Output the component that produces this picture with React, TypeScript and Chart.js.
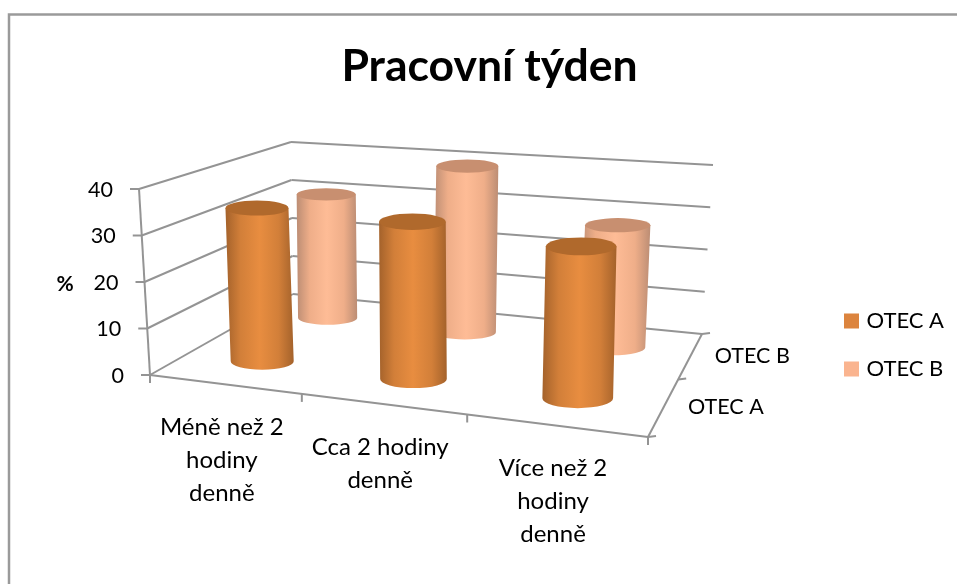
import React, { useEffect, useRef } from "react";
import { Chart, registerables } from "chart.js";

Chart.register(...registerables);

const categories = [
  ["Méně než 2", "hodiny", "denně"],
  ["Cca 2 hodiny", "denně"],
  ["Více než 2", "hodiny", "denně"],
];
const otecA = [34, 33.5, 31];
const otecB = [30.5, 39.5, 28];
const seriesNames = ["OTEC A", "OTEC B"];
const chartTitle = "Pracovní týden";
const axisTitle = "%";

const FONT = "Lato, 'Open Sans', sans-serif";
const GRID = "#949494";
const LEGEND_COLORS = ["#DC843E", "#FAB48F"];
const SHADES = [
  { edge: "#A4622B", mid: "#D27F39", center: "#E88D40", top: "#B0692C" },
  { edge: "#BC8D74", mid: "#EFAE89", center: "#FEBC96", top: "#C88F70" },
];
const SERIES_SHIFT = [{ u: 0.004, v: -0.015 }, { u: 0, v: 0 }];

// View of the 3D box: corners of the floor and of the top plane (front-left, front-right, back-right, back-left)
type Pt = [number, number];
const FLOOR: Pt[] = [[150, 375], [648, 437], [702, 334], [293, 294]];
const ROOF: Pt[] = [[139, 189], [654, 225], [713, 165], [291, 142]];

function homography(q: Pt[]) {
  const [x0, x1, x2, x3] = q.map((p) => p[0]);
  const [y0, y1, y2, y3] = q.map((p) => p[1]);
  const dx1 = x1 - x2, dx2 = x3 - x2, sx = x0 - x1 + x2 - x3;
  const dy1 = y1 - y2, dy2 = y3 - y2, sy = y0 - y1 + y2 - y3;
  const det = dx1 * dy2 - dx2 * dy1;
  const g = (sx * dy2 - dx2 * sy) / det;
  const h = (dx1 * sy - sx * dy1) / det;
  const a = x1 - x0 + g * x1, b = x3 - x0 + h * x3;
  const d = y1 - y0 + g * y1, e = y3 - y0 + h * y3;
  return (u: number, v: number): Pt => {
    const w = g * u + h * v + 1;
    return [(a * u + b * v + x0) / w, (d * u + e * v + y0) / w];
  };
}
const floorAt = homography(FLOOR);
const roofAt = homography(ROOF);
const project = (u: number, v: number, w: number): Pt => {
  const p = floorAt(u, v), t = roofAt(u, v);
  return [p[0] + (t[0] - p[0]) * w, p[1] + (t[1] - p[1]) * w];
};

const RADIUS_U = 0.07;
const RADIUS_V = 0.09;

const box3d = {
  id: "box3d",
  beforeDatasetsDraw(chart: any) {
    const { ctx, scales } = chart;
    const xs = scales.x, ys = scales.y;
    const uOf = (val: number) => (xs.getPixelForValue(val) - xs.left) / xs.width;
    const wOf = (val: number) => (ys.bottom - ys.getPixelForValue(val)) / ys.height;
    const n = chart.data.labels.length;
    const nSeries = chart.data.datasets.length;

    const line = (a: Pt, b: Pt) => {
      ctx.beginPath();
      ctx.moveTo(a[0], a[1]);
      ctx.lineTo(b[0], b[1]);
      ctx.stroke();
    };

    ctx.save();
    // outer frame
    ctx.strokeStyle = "#9a9a9a";
    ctx.lineWidth = 2.5;
    ctx.beginPath();
    ctx.moveTo(9, 584);
    ctx.lineTo(9, 14.5);
    ctx.lineTo(957, 14.5);
    ctx.stroke();

    // walls and grid
    ctx.strokeStyle = GRID;
    ctx.lineWidth = 2;
    ctx.fillStyle = "#000";
    ctx.font = `21.5px ${FONT}`;
    ctx.textBaseline = "middle";
    for (const tick of ys.ticks) {
      const w = wOf(tick.value);
      const front = project(0, 0, w), corner = project(0, 1, w), right = project(1, 1, w);
      line(front, corner);
      line(corner, right);
      line([front[0] - 9, front[1]], front);
      ctx.textAlign = "right";
      ctx.fillText(String(tick.value), front[0] - 26, front[1] + 1);
    }
    line(project(0, 0, 1), project(0, 0, 0));

    // floor edges
    line(floorAt(0, 0), floorAt(1, 0));
    line(floorAt(1, 0), floorAt(1, 1));
    for (let i = 0; i <= n; i++) {
      const p = floorAt(uOf(i - 0.5), 0);
      line(p, [p[0], p[1] + 8]);
    }
    for (let s = 0; s <= nSeries; s++) {
      const p = floorAt(1, s / nSeries);
      line(p, [p[0] + 8, p[1] - 1]);
    }

    // axis labels
    ctx.textAlign = "center";
    ctx.font = `24px ${FONT}`;
    chart.data.labels.forEach((lab: string[], i: number) => {
      const p = floorAt(uOf(i), 0);
      lab.forEach((t, k) => ctx.fillText(t, p[0] - 2.5, p[1] + 43 + k * 33));
    });
    ctx.textAlign = "left";
    ctx.font = `21.5px ${FONT}`;
    chart.data.datasets.forEach((ds: any, s: number) => {
      const p = floorAt(1, (s + 0.5) / nSeries);
      ctx.fillText(ds.label, p[0] + 24, p[1] + 1);
    });
    ctx.textAlign = "center";
    ctx.font = `bold 21px ${FONT}`;
    ctx.fillText(axisTitle, 65, 284);

    // cylinders, back row first
    for (let s = nSeries - 1; s >= 0; s--) {
      const ds = chart.data.datasets[s];
      const v = (s + 0.5) / nSeries + SERIES_SHIFT[s].v;
      const c = SHADES[s];
      ds.data.forEach((val: number, i: number) => {
        const u = uOf(i) + SERIES_SHIFT[s].u;
        const base = project(u, v, 0);
        const top = project(u, v, wOf(val));
        const span = Math.hypot(
          floorAt(u + RADIUS_U, v)[0] - floorAt(u - RADIUS_U, v)[0],
          floorAt(u + RADIUS_U, v)[1] - floorAt(u - RADIUS_U, v)[1]
        ) / 2;
        const rx = 0.7 * span + 10;
        const ry = Math.abs(floorAt(u, v + RADIUS_V)[1] - floorAt(u, v - RADIUS_V)[1]) / 2;
        const grad = ctx.createLinearGradient(Math.min(base[0], top[0]) - rx, 0, Math.max(base[0], top[0]) + rx, 0);
        grad.addColorStop(0, c.edge);
        grad.addColorStop(0.22, c.mid);
        grad.addColorStop(0.5, c.center);
        grad.addColorStop(0.78, c.mid);
        grad.addColorStop(1, c.edge);
        ctx.fillStyle = grad;
        ctx.beginPath();
        ctx.moveTo(top[0] - rx, top[1]);
        ctx.lineTo(top[0] + rx, top[1]);
        ctx.lineTo(base[0] + rx, base[1]);
        ctx.ellipse(base[0], base[1], rx, ry, 0, 0, Math.PI);
        ctx.closePath();
        ctx.fill();
        ctx.fillStyle = c.top;
        ctx.beginPath();
        ctx.ellipse(top[0], top[1], rx, ry * 0.9, 0, 0, Math.PI * 2);
        ctx.fill();
      });
    }
    ctx.restore();
    return false;
  },
};

export default function App() {
  const ref = useRef<HTMLCanvasElement>(null);
  useEffect(() => {
    const chart = new Chart(ref.current as HTMLCanvasElement, {
      type: "bar",
      data: {
        labels: categories as any,
        datasets: [
          { label: seriesNames[0], data: otecA, backgroundColor: LEGEND_COLORS[0], borderColor: LEGEND_COLORS[0], borderWidth: 7 },
          { label: seriesNames[1], data: otecB, backgroundColor: LEGEND_COLORS[1], borderColor: LEGEND_COLORS[1], borderWidth: 7 },
        ],
      },
      options: {
        responsive: false,
        animation: false,
        layout: { padding: { left: 25, right: 3, top: 0, bottom: -106 } },
        scales: {
          x: { display: false },
          y: { display: false, min: 0, max: 40, ticks: { stepSize: 10 } },
        },
        plugins: {
          tooltip: { enabled: false },
          title: {
            display: true,
            text: chartTitle,
            color: "#000",
            font: { family: FONT, size: 44.5, weight: "bold" },
            padding: { top: 40, bottom: 10 },
          },
          legend: {
            position: "right",
            labels: {
              color: "#000",
              boxWidth: 8,
              boxHeight: 8,
              padding: 26,
              font: { family: FONT, size: 22 },
            },
          },
        },
      },
      plugins: [box3d],
    } as any);
    return () => chart.destroy();
  }, []);
  return (
    <div style={{ position: "fixed", left: 0, top: 0, width: 957, height: 584, overflow: "hidden", background: "#fff" }}>
      <canvas ref={ref} width={957} height={584} style={{ display: "block" }} />
    </div>
  );
}
